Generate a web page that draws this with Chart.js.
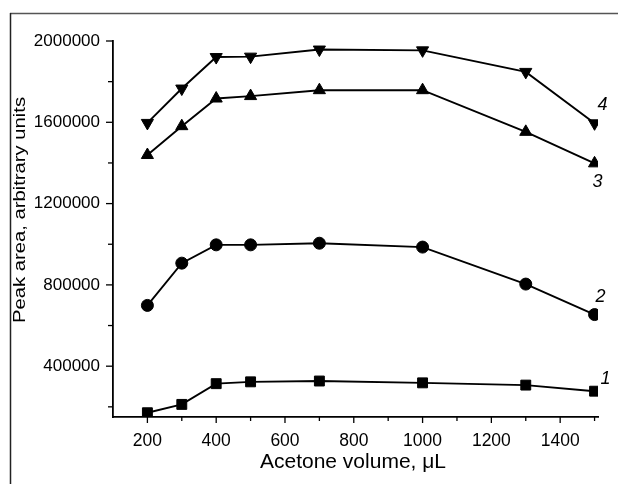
<!DOCTYPE html>
<html>
<head>
<meta charset="utf-8">
<script src="https://cdn.jsdelivr.net/npm/chart.js@4/dist/chart.umd.min.js"></script>
<style>
html,body{margin:0;padding:0;background:#fff;}
#wrap{width:618px;height:484px;position:relative;}
</style>
</head>
<body>
<div id="wrap"><canvas id="c" width="618" height="484"></canvas></div>
<script>
const acetoneVolume = [200, 300, 400, 500, 700, 1000, 1300, 1500];
const series1 = [171000, 212000, 314000, 323000, 327000, 318000, 307000, 277000];
const series2 = [699000, 907000, 997000, 997000, 1005000, 986000, 804000, 654000];
const series3 = [1439000, 1581000, 1717000, 1729000, 1758000, 1758000, 1553000, 1398000];
const series4 = [1597000, 1766000, 1921000, 1923000, 1958000, 1954000, 1848000, 1595000];
const seriesLabels = ['1', '2', '3', '4'];
const xTicks = [200, 400, 600, 800, 1000, 1200, 1400];
const xMinorTicks = [300, 500, 700, 900, 1100, 1300, 1500];
const yTicks = [400000, 800000, 1200000, 1600000, 2000000];
const yMinorTicks = [200000, 600000, 1000000, 1400000, 1800000];
const xTitle = 'Acetone volume, \u03BCL';
const yTitle = 'Peak area, arbitrary units';

const FONT = '"Liberation Sans", Arial, sans-serif';

function mk(label, data, style, rot, radius) {
  return {
    label: label,
    data: data.map((v, i) => ({x: acetoneVolume[i], y: v})),
    borderColor: '#000',
    backgroundColor: '#000',
    borderWidth: 1.9,
    pointStyle: style,
    pointRotation: rot,
    pointRadius: radius,
    pointBorderWidth: 1,
    pointBorderColor: '#000',
    pointBackgroundColor: '#000',
    tension: 0,
    fill: false
  };
}

const decor = {
  id: 'decor',
  afterDraw(chart) {
    const ctx = chart.ctx;
    const xs = chart.scales.x, ys = chart.scales.y;
    const area = chart.chartArea;
    ctx.save();
    // frame
    ctx.strokeStyle = '#555';
    ctx.lineWidth = 1.5;
    ctx.beginPath(); ctx.moveTo(10, 13.5); ctx.lineTo(618, 13.5); ctx.stroke();
    ctx.strokeStyle = '#222';
    ctx.beginPath(); ctx.moveTo(10.5, 13); ctx.lineTo(10.5, 484); ctx.stroke();
    // ticks
    ctx.strokeStyle = '#000';
    ctx.lineWidth = 1.3;
    const yb = area.bottom;
    xTicks.forEach(v => { const p = xs.getPixelForValue(v); ctx.beginPath(); ctx.moveTo(p, yb); ctx.lineTo(p, yb + 6); ctx.stroke(); });
    xMinorTicks.forEach(v => { const p = xs.getPixelForValue(v); ctx.beginPath(); ctx.moveTo(p, yb); ctx.lineTo(p, yb + 4); ctx.stroke(); });
    const xl = area.left;
    yTicks.forEach(v => { const p = ys.getPixelForValue(v); ctx.beginPath(); ctx.moveTo(xl, p); ctx.lineTo(xl - 7, p); ctx.stroke(); });
    yMinorTicks.forEach(v => { const p = ys.getPixelForValue(v); ctx.beginPath(); ctx.moveTo(xl, p); ctx.lineTo(xl - 5, p); ctx.stroke(); });
    // axis titles
    ctx.fillStyle = '#000';
    ctx.font = '21px ' + FONT;
    ctx.textAlign = 'center';
    ctx.textBaseline = 'alphabetic';
    ctx.fillText(xTitle, 353, 468);
    ctx.save();
    ctx.font = '17px ' + FONT;
    const w = ctx.measureText(yTitle).width;
    ctx.translate(25, 210);
    ctx.rotate(-Math.PI / 2);
    ctx.scale(226 / w, 1);
    ctx.fillText(yTitle, 0, 0);
    ctx.restore();
    // series labels
    ctx.font = 'italic 18px ' + FONT;
    ctx.textBaseline = 'middle';
    const offs = [[11, -12], [6, -18], [3, 19], [8, -18]];
    chart.data.datasets.forEach((ds, i) => {
      const last = ds.data[ds.data.length - 1];
      const px = xs.getPixelForValue(last.x), py = ys.getPixelForValue(last.y);
      ctx.fillText(seriesLabels[i], px + offs[i][0], py + offs[i][1]);
    });
    ctx.restore();
  }
};

new Chart(document.getElementById('c'), {
  type: 'line',
  data: {
    datasets: [
      mk('1', series1, 'rect', 0, 7),
      mk('2', series2, 'circle', 0, 6),
      mk('3', series3, 'triangle', 0, 7),
      mk('4', series4, 'triangle', 180, 7)
    ]
  },
  options: {
    responsive: false,
    animation: false,
    devicePixelRatio: 1,
    layout: {padding: {left: 0, top: 41, right: 20, bottom: 0}},
    plugins: {legend: {display: false}, tooltip: {enabled: false}},
    scales: {
      x: {
        type: 'linear',
        min: 100, max: 1510,
        grid: {display: false, drawTicks: false},
        border: {display: true, color: '#000', width: 1.8},
        afterBuildTicks: s => { s.ticks = xTicks.map(v => ({value: v})); },
        afterFit: s => { s.height = 67; },
        ticks: {
          color: '#000', font: {family: FONT, size: 17.5}, padding: 14,
          maxRotation: 0, autoSkip: false, callback: v => String(v)
        }
      },
      y: {
        type: 'linear',
        min: 150000, max: 2000000,
        grid: {display: false, drawTicks: false},
        border: {display: true, color: '#000', width: 1.8},
        afterBuildTicks: s => { s.ticks = yTicks.map(v => ({value: v})); },
        afterFit: s => { s.width = 113; },
        ticks: {
          color: '#000', font: {family: FONT, size: 17}, padding: 13,
          autoSkip: false, callback: v => String(v)
        }
      }
    }
  },
  plugins: [decor]
});
</script>
</body>
</html>
